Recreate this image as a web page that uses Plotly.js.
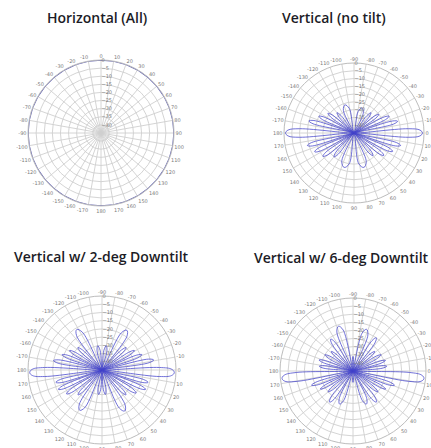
<!DOCTYPE html>
<html>
<head>
<meta charset="utf-8">
<script src="https://cdn.plot.ly/plotly-3.0.1.min.js"></script>
<style>html,body{margin:0;padding:0;background:#fff;}#chart{width:431px;height:448px;}</style>
</head>
<body>
<div id="chart"></div>
<script>
// ---- data ----
const panelTitles = ["Horizontal (All)", "Vertical (no tilt)", "Vertical w/ 2-deg Downtilt", "Vertical w/ 6-deg Downtilt"];
const angleTickVals = [0,10,20,30,40,50,60,70,80,90,100,110,120,130,140,150,160,170,180,190,200,210,220,230,240,250,260,270,280,290,300,310,320,330,340,350];
const angleTickText = ["0","10","20","30","40","50","60","70","80","90","100","110","120","130","140","150","160","170","180","-170","-160","-150","-140","-130","-120","-110","-100","-90","-80","-70","-60","-50","-40","-30","-20","-10"];
const gainTickVals = [-40,-35,-30,-25,-20,-15,-10,-5,0];

// Horizontal pattern (omnidirectional), gain in dB
const horizTheta = [0,10,20,30,40,50,60,70,80,90,100,110,120,130,140,150,160,170,180,190,200,210,220,230,240,250,260,270,280,290,300,310,320,330,340,350,360];
const horizGain  = [0,0,0,0,0,0,0,0,0,0,0,0,0,0,0,0,0,0,0,0,0,0,0,0,0,0,0,0,0,0,0,0,0,0,0,0,0];

// Vertical pattern, no tilt (angle clockwise from horizon, gain dB)
const noTiltTheta = [0,2.5,4.5,8, 12.7,15,17.3,20, 23,25.5,28,31, 34.3,37,39.7,43, 46.6,50,53.4,58, 66.8,74,81.2,90, 98.8,106,113.2,122, 126.6,130,133.4,137, 140.3,143,145.7,149, 152,154.5,157,160, 162.7,165,167.3,172, 175.5,177.5,180,182.5,184.5,188, 192.7,195,197.3,200, 203,205.5,208,211, 214.3,217,219.7,223, 226.6,230,233.4,238, 244.8,252,259.2,270, 280.8,288,295.2,302, 306.6,310,313.4,317, 320.3,323,325.7,329, 332,334.5,337,340, 342.7,345,347.3,352, 355.5,357.5,360];
const noTiltGain  = [-1,-2.5,-10,-45, -17,-14,-17,-45, -20.5,-17.5,-20.5,-45, -24,-21,-24,-45, -29,-26,-29,-45, -25,-22,-25,-45, -25,-22,-25,-45, -28,-25,-28,-45, -23,-20,-23,-45, -20,-17,-20,-45, -17,-14,-17,-45, -10,-2.5,-1,-2.5,-10,-45, -18,-15,-18,-45, -23,-20,-23,-45, -27,-24,-27,-45, -31,-28,-31,-45, -29,-26,-29,-45, -31,-28,-31,-45, -31,-28,-31,-45, -28,-25,-28,-45, -23,-20,-23,-45, -19,-16,-19,-45, -10,-2.5,-1];

// Vertical pattern, 2-deg downtilt
const tilt2Theta = [2,4.5,6.5,10, 12.9,15,17.1,19.5, 21.9,24,26.1,29, 31.5,34,36.5,40, 43.3,46,48.7,52, 56.5,61,65.5,72, 78,82,86,90, 94,98,102,108, 114.5,119,123.5,128, 131.3,134,136.7,140, 143.5,146,148.5,151, 153.9,156,158.1,160.5, 162.8,165,167.2,170, 173.5,175.5,178,180.5,182.5,186, 188.8,191,193.2,196, 198.8,201,203.2,206, 208.6,211,213.4,216.5, 220.2,223,225.8,229, 233.5,238,242.5,249, 255.5,260,264.5,270, 275.5,280,284.5,291, 297.5,302,306.5,311, 314.2,317,319.8,323.5, 326.6,329,331.4,334, 336.8,339,341.2,344, 346.8,349,351.2,354, 357.5,359.5,362];
const tilt2Gain  = [-1,-2.5,-10,-45, -19,-16,-19,-45, -19,-16,-19,-45, -23,-20,-23,-45, -27,-24,-27,-45, -19.5,-16.5,-19.5,-45, -33,-30,-33,-45, -33,-30,-33,-45, -20,-17,-20,-45, -27,-24,-27,-45, -22,-19,-22,-45, -19,-16,-19,-45, -19,-16,-19,-45, -10,-2.5,-1,-2.5,-10,-45, -18,-15,-18,-45, -22,-19,-22,-45, -25,-22,-25,-45, -28,-25,-28,-45, -19,-16,-19,-45, -33,-30,-33,-45, -33,-30,-33,-45, -19.5,-16.5,-19.5,-45, -28,-25,-28,-45, -25,-22,-25,-45, -22,-19,-22,-45, -16,-13,-16,-45, -10,-2.5,-1];

// Vertical pattern, 6-deg downtilt
const tilt6Theta = [6,8.5,10.5,14, 16.8,19,21.2,24, 26.8,29,31.2,34, 37.3,40,42.7,46, 49.8,53,56.2,60, 63.5,68,72.5,80, 85.5,90,94.5,100, 107.5,112,116.5,120, 123.8,127,130.2,134, 137.3,140,142.7,146, 148.8,151,153.2,156, 158.8,161,163.2,166, 169.5,171.5,174,176.5,178.5,182, 185.4,188,190.6,193.5, 195.6,198,200.4,204, 207.3,210,212.7,216, 219.1,222,224.9,229, 232,235,238,242, 247.5,252,256.5,262, 266.4,270,273.6,278, 283.5,288,292.5,298, 302,305,308,311, 315.1,318,320.9,324, 327.3,330,332.7,336, 339.6,342,344.4,346.5, 349.4,352,354.6,358, 361.5,363.5,366];
const tilt6Gain  = [-1,-2.5,-10,-45, -21,-18,-21,-45, -25,-22,-25,-45, -28,-25,-28,-45, -24,-21,-24,-45, -26,-23,-26,-45, -41,-38,-41,-45, -26,-23,-26,-45, -24,-21,-24,-45, -28,-25,-28,-45, -25,-22,-25,-45, -21,-18,-21,-45, -10,-2.5,-1,-2.5,-10,-45, -27,-24,-27,-45, -26,-23,-26,-45, -28,-25,-28,-45, -30,-27,-30,-45, -24,-21,-24,-45, -19,-16,-19,-45, -39,-36,-39,-45, -21,-18,-21,-45, -23,-20,-23,-45, -30,-27,-30,-45, -28,-25,-28,-45, -27,-24,-27,-45, -27,-24,-27,-45, -10,-2.5,-1];

// ---- layout helpers ----
const W = 431, H = 448;
function dom(cx, cy, R) {
  return { x: [(cx - R) / W, (cx + R) / W], y: [1 - (cy + R) / H, 1 - (cy - R) / H] };
}
const gridCol = '#cfcfcf';
const tickFont = { size: 5, color: '#7a7a7a', family: 'DejaVu Sans' };
function polar(d, rot) {
  return {
    domain: d,
    bgcolor: 'rgba(0,0,0,0)',
    angularaxis: {
      rotation: rot, direction: 'clockwise',
      tickmode: 'array', tickvals: angleTickVals, ticktext: angleTickText,
      showgrid: true, gridcolor: gridCol, gridwidth: 0.9,
      showline: true, linecolor: '#bdbdbd', linewidth: 1,
      ticks: '', tickfont: tickFont
    },
    radialaxis: {
      range: [-45, 0], tickmode: 'array', tickvals: gainTickVals,
      showgrid: true, gridcolor: gridCol, gridwidth: 0.9,
      showline: false, ticks: '', angle: 90, tickangle: 90,
      tickfont: tickFont
    }
  };
}
const lineCol = '#4646cc';
const patternLine = { color: lineCol, width: 0.85, shape: 'spline', smoothing: 1.1 };
const traces = [
  { type: 'scatterpolar', subplot: 'polar', theta: horizTheta, r: horizGain, mode: 'lines', cliponaxis: false,
    line: { color: '#5e5eb0', width: 1.4 }, hoverinfo: 'skip' },
  { type: 'scatterpolar', subplot: 'polar2', theta: noTiltTheta, r: noTiltGain, mode: 'lines', cliponaxis: false,
    line: patternLine, opacity: 0.9, hoverinfo: 'skip' },
  { type: 'scatterpolar', subplot: 'polar3', theta: tilt2Theta, r: tilt2Gain, mode: 'lines', cliponaxis: false,
    line: patternLine, opacity: 0.9, hoverinfo: 'skip' },
  { type: 'scatterpolar', subplot: 'polar4', theta: tilt6Theta, r: tilt6Gain, mode: 'lines', cliponaxis: false,
    line: patternLine, opacity: 0.9, hoverinfo: 'skip' }
];
const titleFont = { family: 'Open Sans', size: 14, color: '#1c1c26', weight: 600 };
function ann(text, cx, cy) {
  return { text: text, xref: 'paper', yref: 'paper', x: cx / W, y: 1 - cy / H,
           xanchor: 'center', yanchor: 'middle', showarrow: false, font: titleFont };
}
const layout = {
  width: W, height: H,
  margin: { l: 0, r: 0, t: 0, b: 0 },
  paper_bgcolor: '#ffffff', plot_bgcolor: '#ffffff',
  showlegend: false,
  polar:  polar(dom(101, 133, 73), 90),
  polar2: polar(dom(354, 133, 70), 0),
  polar3: polar(dom(102, 370, 74), 0),
  polar4: polar(dom(353, 371, 73), 0),
  annotations: [
    ann(panelTitles[0], 97, 17),
    ann(panelTitles[1], 334, 17),
    ann(panelTitles[2], 101, 256),
    ann(panelTitles[3], 341, 257)
  ]
};
Plotly.newPlot('chart', traces, layout, { staticPlot: true, displayModeBar: false });
</script>
</body>
</html>
